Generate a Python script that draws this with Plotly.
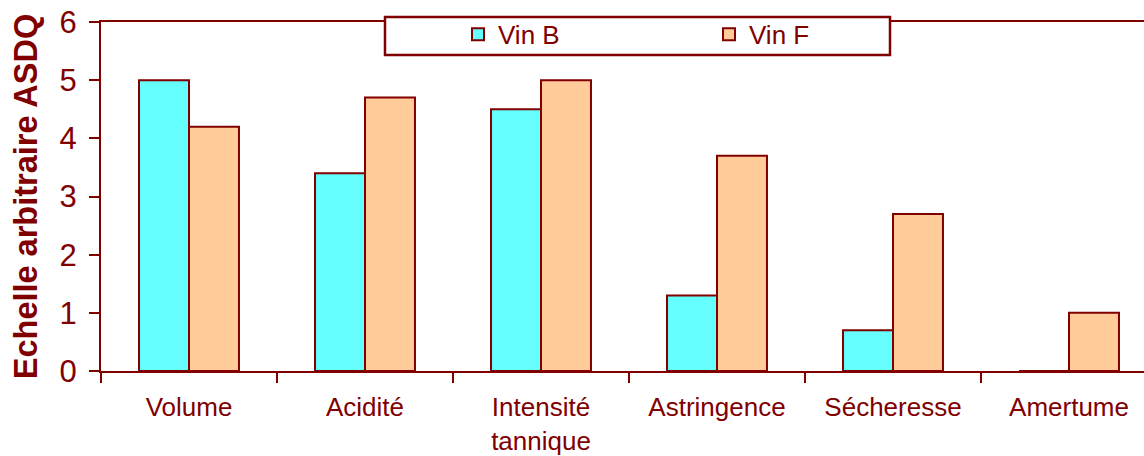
import plotly.graph_objects as go

categories = ["Volume", "Acidité", "Intensité<br>tannique", "Astringence", "Sécheresse", "Amertume"]
vin_b = [5, 3.4, 4.5, 1.3, 0.7, 0]
vin_f = [4.2, 4.7, 5, 3.7, 2.7, 1]
y_ticks = [0, 1, 2, 3, 4, 5, 6]

MAROON = "#800000"
FONT = "Liberation Sans, Arial, sans-serif"

fig = go.Figure()
fig.add_trace(go.Bar(name="Vin B", x=categories, y=vin_b,
                     marker=dict(color="#66FFFF", line=dict(color=MAROON, width=2))))
fig.add_trace(go.Bar(name="Vin F", x=categories, y=vin_f,
                     marker=dict(color="#FFCC99", line=dict(color=MAROON, width=2))))

fig.update_layout(
    width=1144, height=456,
    margin=dict(l=101, r=0, t=22, b=85),
    paper_bgcolor="white", plot_bgcolor="white",
    barmode="group", bargap=0.432, bargroupgap=0,
    font=dict(family=FONT, color=MAROON),
    showlegend=True,
    legend=dict(orientation="h", x=(458 - 101) / 1043, xanchor="left",
                y=1.032, yanchor="top", yref="paper",
                bgcolor="rgba(0,0,0,0)", borderwidth=0,
                font=dict(size=26, color=MAROON, family=FONT),
                entrywidth=206, traceorder="normal"),
    shapes=[dict(type="rect", xref="paper", yref="paper",
                 x0=(385 - 101) / 1043, x1=(890 - 101) / 1043,
                 y0=(371 - 55) / 349, y1=(371 - 17) / 349,
                 line=dict(color=MAROON, width=2.5), fillcolor="white", layer="above")],
)

fig.update_xaxes(
    range=[-0.5, -0.5 + 1043 / 176], automargin=False,
    showline=True, linecolor=MAROON, linewidth=2, mirror=True,
    ticks="outside", tickson="boundaries", ticklen=10, tickwidth=2, tickcolor=MAROON,
    tickfont=dict(size=26, color=MAROON, family=FONT),
    ticklabelstandoff=12,
    showgrid=False,
)
fig.update_yaxes(
    range=[0, 6], tickvals=y_ticks, automargin=False,
    showline=True, linecolor=MAROON, linewidth=2,
    ticks="outside", ticklen=10, tickwidth=2, tickcolor=MAROON,
    tickfont=dict(size=31, color=MAROON, family=FONT),
    ticklabelstandoff=6,
    showgrid=False, zeroline=False,
    title=dict(text="<b>Echelle arbitraire ASDQ</b>", font=dict(size=32.5, color=MAROON, family=FONT),
               standoff=12),
)

fig.write_html("out.html", config={"displayModeBar": False},
               post_script="document.body.style.margin='0px';document.body.style.padding='0px';")
